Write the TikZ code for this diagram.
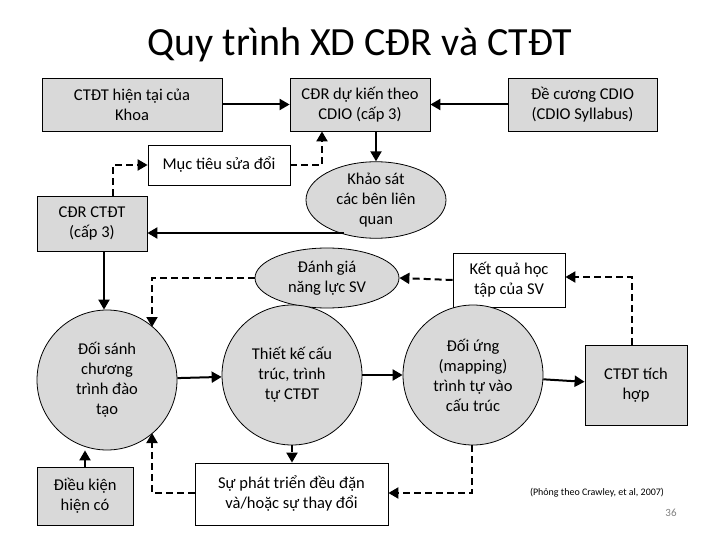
\documentclass[tikz,border=0pt]{standalone}
\usepackage{fontspec}
\setmainfont{Carlito}
\usetikzlibrary{shapes.geometric,arrows.meta}
\begin{document}
\begin{tikzpicture}[x=1pt,y=-1pt,
  txt/.style={align=center,font=\fontsize{16.5}{20}\selectfont,inner sep=0pt},
  gbox/.style={txt,draw,thick,fill=gray!30},
  wbox/.style={txt,draw,thick,fill=white},
  gell/.style={txt,draw,thick,ellipse,fill=gray!30},
  gcirc/.style={txt,draw,thick,circle,fill=gray!30,minimum size=140pt},
  sol/.style={line width=2pt,-{Triangle[length=10pt,width=11pt]}},
  das/.style={line width=2pt,dash pattern=on 7pt off 4pt,-{Triangle[length=10pt,width=11pt]}}]
\useasboundingbox (0,0) rectangle (720,540);
\node (title) at (360,45) {\fontsize{40}{44}\selectfont Quy trình XD CĐR và CTĐT};
\node[gbox,minimum width=180pt,minimum height=53pt] (a) at (132,104.5) {CTĐT hiện tại của\\Khoa};
\node[gbox,minimum width=140pt,minimum height=53pt] (b) at (360,104.5) {CĐR dự kiến theo\\CDIO (cấp 3)};
\node[gbox,minimum width=149pt,minimum height=53pt] (c) at (582.5,104.5) {Đề cương CDIO\\(CDIO Syllabus)};
\node[wbox,minimum width=142pt,minimum height=40pt] (m) at (219,165) {Mục tiêu sửa đổi};
\node[gell,minimum width=140pt,minimum height=74pt] (k) at (376,200) {Khảo sát\\các bên liên\\quan};
\node[gbox,minimum width=110pt,minimum height=55pt] (d) at (92,223.5) {CĐR CTĐT\\(cấp 3)};
\node[gell,minimum width=144pt,minimum height=60pt] (e) at (327,278) {Đánh giá\\năng lực SV};
\node[wbox,minimum width=112pt,minimum height=54pt] (f) at (509,280) {Kết quả học\\tập của SV};
\node[gcirc] (g) at (107,380) {Đối sánh\\chương\\trình đào\\tạo};
\node[gcirc] (h) at (292,375) {Thiết kế cấu\\trúc, trình\\tự CTĐT};
\node[gcirc] (i) at (473,375) {Đối ứng\\(mapping)\\trình tự vào\\cấu trúc};
\node[gbox,minimum width=102pt,minimum height=80pt] (j) at (636,385) {CTĐT tích\\hợp};
\node[gbox,minimum width=96pt,minimum height=58pt] (l) at (85,496) {Điều kiện\\hiện có};
\node[wbox,minimum width=193pt,minimum height=62pt] (n) at (291.5,494) {Sự phát triển đều đặn\\và/hoặc sự thay đổi};
\node[font=\fontsize{10}{12}\selectfont] (cit) at (597,493) {(Phỏng theo  Crawley, et al, 2007)};
\node[font=\fontsize{11}{12}\selectfont,text=gray] (pg) at (671,513) {36};
\draw[sol] (a) -- (b);
\draw[sol] (c) -- (b);
\draw[sol] (b.south -| k.north) -- (k.north);
\coordinate (k1) at (344,233);
\draw[sol] (k1) -- (d.east |- k1);
\draw[das] (d.north -| 113,0) |- (m.west);
\draw[das] (m.east) -| (322,0 |- b.south);
\draw[sol] (d.south -| 104,0) -- (g.north -| 104,0);
\coordinate (p1) at (152,278);
\coordinate (g1) at (152,327);
\draw[das] (e.west) -- (p1) -- (g1);
\draw[das] (f.west) -- (e.east);
\coordinate (p2) at (632,277);
\draw[das] (j.north -| 632,0) -- (p2) -- (f.east |- p2);
\draw[sol] (g) -- (h);
\draw[sol] (h) -- (i);
\draw[sol] (i) -- (j);
\draw[das] (h.south) -- (n.north -| h.south);
\coordinate (p3) at (472,493);
\draw[das] (i.south -| p3) -- (p3) -- (n.east |- p3);
\coordinate (p4) at (152,493);
\coordinate (g2) at (152,433);
\draw[das] (n.west |- p4) -- (p4) -- (g2);
\draw[sol] (l.north) -- (g.south -| l.north);
\end{tikzpicture}
\end{document}
